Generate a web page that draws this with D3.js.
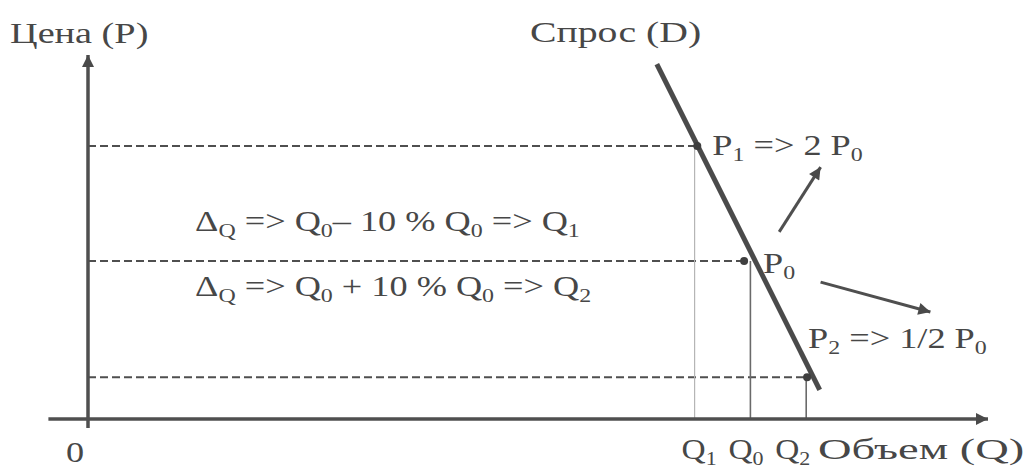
<!DOCTYPE html>
<html>
<head>
<meta charset="utf-8">
<script src="https://cdn.jsdelivr.net/npm/d3@7"></script>
<style>
  html, body { margin: 0; padding: 0; background: #fff; }
  svg { display: block; }
</style>
</head>
<body>
<script>
// price / quantity points on the demand curve (chart units, 0..100)
const pointNames = ['P1', 'P0', 'P2'];
const pointQ = [67.7, 72.9, 79.9];
const pointP = [75, 43.4, 11.5];

// quantity marks on the x axis
const qTickNames = ['Q_1', 'Q_0', 'Q_2'];
const qTickValues = [67.4, 73.6, 79.8];

// demand line D (start / end)
const demandQ = [63.2, 81.3];
const demandP = [97.5, 8];

// shift arrows [from, to]
const arrowUpQ = [76.8, 81.4];
const arrowUpP = [51.4, 69.2];
const arrowDownQ = [81.4, 93.6];
const arrowDownP = [37.6, 29.4];

// texts
const yTitle = 'Цена (P)';
const xTitle = 'Объем (Q)';
const demandTitle = 'Спрос (D)';
const pointLabels = ['P_1 => 2 P_0', 'P_0', 'P_2 => 1/2 P_0'];
const noteMinus = 'Δ_Q => Q_0– 10 % Q_0 => Q_1';
const notePlus = 'Δ_Q => Q_0 + 10 % Q_0 => Q_2';

const width = 1030;
const height = 470;

const x = d3.scaleLinear().domain([0, 100]).range([88, 988]);
const y = d3.scaleLinear().domain([0, 100]).range([419, 55]);

const svg = d3.select('body')
  .append('svg')
  .attr('width', width)
  .attr('height', height);

const defs = svg.append('defs');
defs.append('marker')
  .attr('id', 'head')
  .attr('viewBox', '0 0 10 10')
  .attr('refX', 10)
  .attr('refY', 5)
  .attr('markerUnits', 'userSpaceOnUse')
  .attr('markerWidth', 16)
  .attr('markerHeight', 12)
  .attr('orient', 'auto')
  .append('path')
  .attr('d', 'M0,0 L10,5 L0,10 Z')
  .attr('fill', '#4a4a4a');

const ink = '#4f4f4f';
const serif = "'Liberation Serif', 'Times New Roman', Tinos, 'DejaVu Serif', serif";

// draw text with "_x" meaning subscript x; sx = horizontal stretch
function richText(sel, str, px, py, size, sx) {
  const t = sel.append('text')
    .attr('transform', `translate(${px},${py}) scale(${sx || 1.25},1)`)
    .attr('font-family', serif)
    .attr('font-size', size)
    .attr('fill', '#474747');
  const re = /_(.)/g;
  let last = 0;
  let m;
  let sub = false;
  while ((m = re.exec(str)) !== null) {
    if (m.index > last) {
      t.append('tspan').attr('dy', sub ? -6 : 0).text(str.slice(last, m.index));
      sub = false;
    }
    t.append('tspan')
      .attr('dy', sub ? 0 : 6)
      .attr('font-size', size * 0.66)
      .text(m[1]);
    sub = true;
    last = m.index + 2;
  }
  if (last < str.length) {
    t.append('tspan').attr('dy', sub ? -6 : 0).text(str.slice(last));
  }
  return t;
}

// dashed price levels
svg.selectAll('.level')
  .data(pointP)
  .enter()
  .append('line')
  .attr('class', 'level')
  .attr('x1', x(0))
  .attr('x2', (d, i) => x(pointQ[i]))
  .attr('y1', d => y(d))
  .attr('y2', d => y(d))
  .attr('stroke', ink)
  .attr('stroke-width', 2)
  .attr('stroke-dasharray', '8,4');

// vertical drops to quantities
svg.selectAll('.drop')
  .data(qTickValues)
  .enter()
  .append('line')
  .attr('class', 'drop')
  .attr('x1', d => x(d))
  .attr('x2', d => x(d))
  .attr('y1', (d, i) => y(pointP[i]))
  .attr('y2', y(0))
  .attr('stroke', (d, i) => (i === 0 ? '#b5b5b5' : '#6a6a6a'))
  .attr('stroke-width', (d, i) => (i === 0 ? 1.2 : 1.6));

// axes with arrows
svg.append('line')
  .attr('x1', x(-4.4))
  .attr('x2', x(100))
  .attr('y1', y(0))
  .attr('y2', y(0))
  .attr('stroke', ink)
  .attr('stroke-width', 3.5)
  .attr('marker-end', 'url(#head)');

svg.append('line')
  .attr('x1', x(0))
  .attr('x2', x(0))
  .attr('y1', y(-2.5))
  .attr('y2', y(100))
  .attr('stroke', ink)
  .attr('stroke-width', 3.5)
  .attr('marker-end', 'url(#head)');

// demand line
svg.append('line')
  .attr('x1', x(demandQ[0]))
  .attr('y1', y(demandP[0]))
  .attr('x2', x(demandQ[1]))
  .attr('y2', y(demandP[1]))
  .attr('stroke', '#4a4a4a')
  .attr('stroke-width', 5);

// points
svg.selectAll('.pt')
  .data(pointP)
  .enter()
  .append('circle')
  .attr('class', 'pt')
  .attr('cx', (d, i) => x(pointQ[i]))
  .attr('cy', d => y(d))
  .attr('r', 4)
  .attr('fill', '#3f3f3f');

// shift arrows
[[arrowUpQ, arrowUpP], [arrowDownQ, arrowDownP]].forEach(([q, p]) => {
  svg.append('line')
    .attr('x1', x(q[0]))
    .attr('y1', y(p[0]))
    .attr('x2', x(q[1]))
    .attr('y2', y(p[1]))
    .attr('stroke', ink)
    .attr('stroke-width', 3)
    .attr('marker-end', 'url(#head)');
});

// labels
const labels = svg.append('g');
const fs = 29;

richText(labels, yTitle, 10, 43, fs, 1.32);
richText(labels, demandTitle, 530, 42, fs, 1.37);
richText(labels, '0', 66, 462, fs);
richText(labels, xTitle, 818, 459, 30, 1.55);

// quantity labels sit a bit left of their drop lines, packed together
const qLabelShift = [-13, -22, -31];
qTickNames.forEach((d, i) => {
  richText(labels, d, x(qTickValues[i]) + qLabelShift[i], 459, fs, 1.15);
});

// point labels next to the dots
const labelOffset = [[15, 9], [19, 12], [1, -29]];
pointLabels.forEach((d, i) => {
  richText(labels, d, x(pointQ[i]) + labelOffset[i][0], y(pointP[i]) + labelOffset[i][1], fs);
});

// notes above / below P0 level
richText(labels, noteMinus, x(11.9), y(pointP[1]) - 30, fs);
richText(labels, notePlus, x(11.9), y(pointP[1]) + 35, fs);
</script>
</body>
</html>
